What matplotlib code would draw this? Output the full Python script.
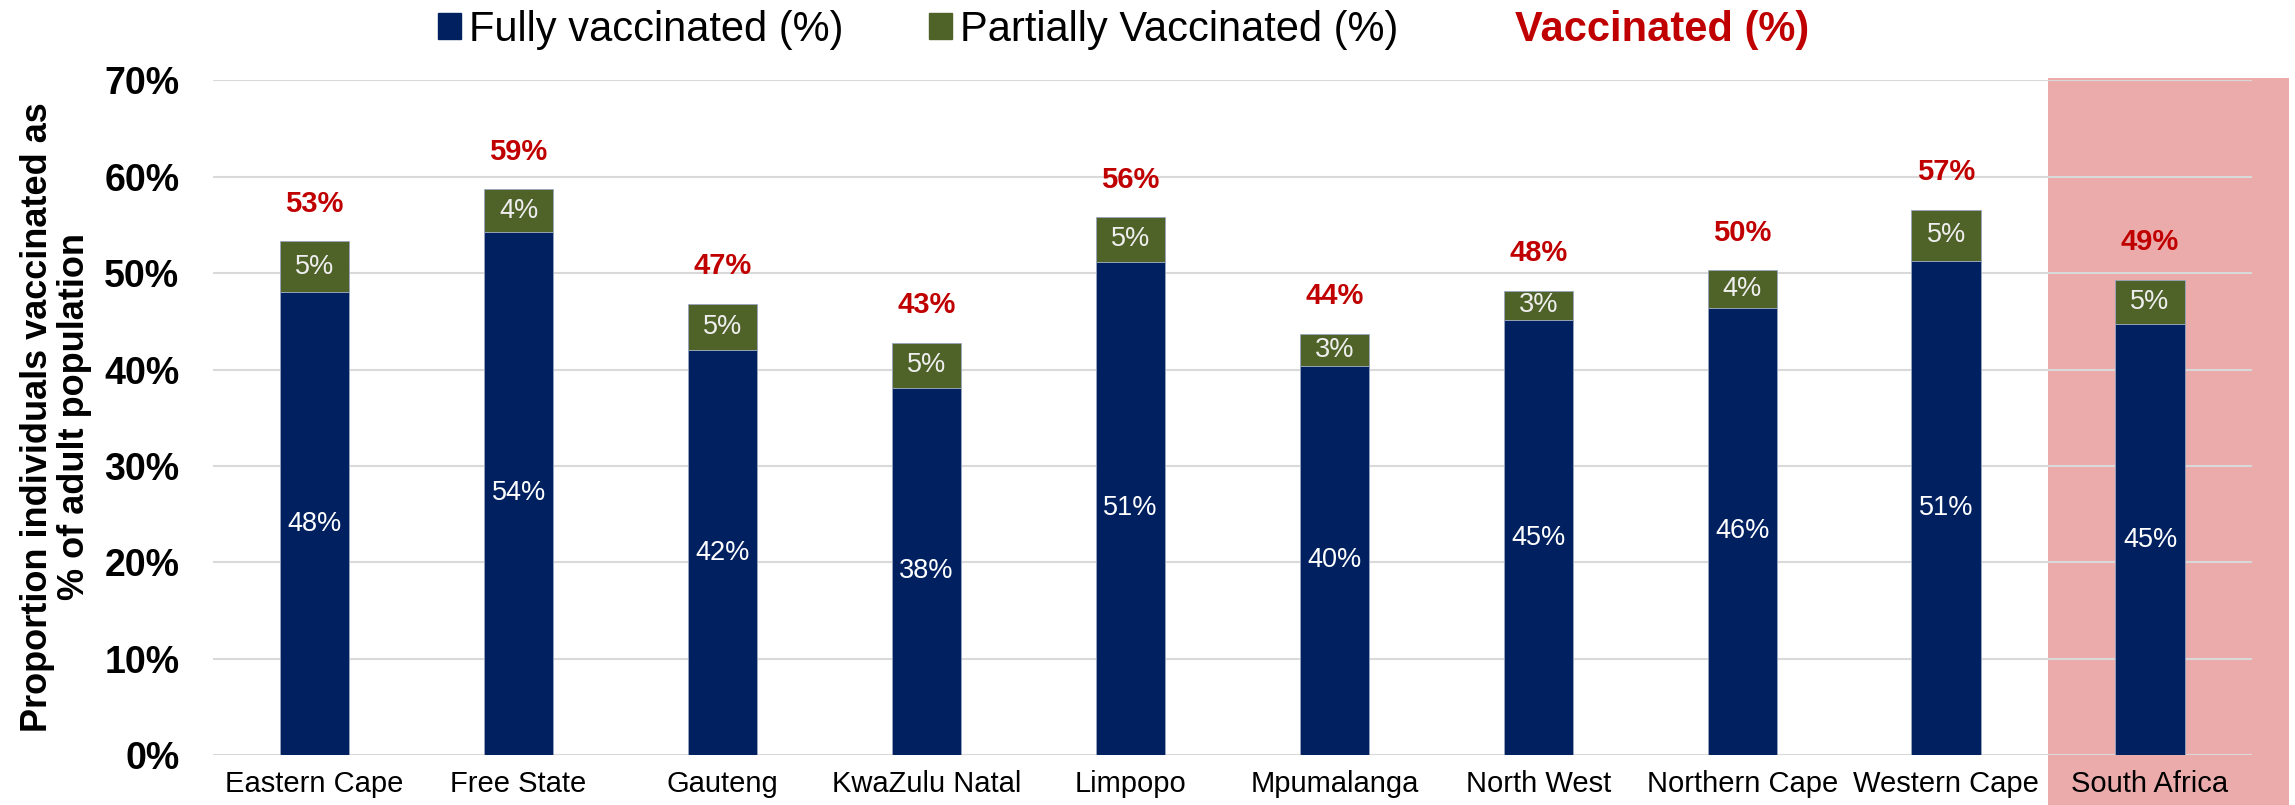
# Vaccination coverage by province, stacked bars
import matplotlib
matplotlib.use('Agg')
import matplotlib.pyplot as plt
from matplotlib.patches import Patch, Rectangle
from matplotlib.ticker import PercentFormatter

plt.rcParams['font.family'] = ['Liberation Sans', 'DejaVu Sans']

provinces = ['Eastern Cape', 'Free State', 'Gauteng', 'KwaZulu Natal', 'Limpopo',
             'Mpumalanga', 'North West', 'Northern Cape', 'Western Cape', 'South Africa']
fully = [48.0, 54.3, 42.0, 38.1, 51.2, 40.4, 45.1, 46.4, 51.3, 44.7]
partial = [5.3, 4.4, 4.8, 4.7, 4.6, 3.3, 3.1, 3.9, 5.3, 4.6]

navy = '#002060'
olive = '#4F6228'
red = '#C00000'
pink = '#EBABAB'

fig = plt.figure(figsize=(22.95, 8.05), dpi=100)
ax = fig.add_axes([212.7 / 2295, 50 / 805, (2252 - 212.7) / 2295, (755 - 80.5) / 805])

x = list(range(len(provinces)))
totals = [f + p for f, p in zip(fully, partial)]

# highlight the national figure
ax.add_patch(Rectangle((8.5, -0.075), 1.18, 1.079, transform=ax.get_xaxis_transform(),
                       facecolor=pink, edgecolor='none', clip_on=False, zorder=0))

ax.bar(x, fully, width=0.34, color=navy, edgecolor='#9AA6C0', linewidth=0.6, zorder=2)
ax.bar(x, partial, width=0.34, bottom=fully, color=olive, edgecolor='#9AA6C0',
       linewidth=0.6, zorder=2)

for i in x:
    ax.text(i, fully[i] / 2, '%d%%' % round(fully[i]), ha='center', va='center',
            color='white', fontsize=19.5, zorder=3)
    ax.text(i, fully[i] + partial[i] / 2, '%d%%' % round(partial[i]), ha='center',
            va='center', color='#EEEEEE', fontsize=19.5, zorder=3)
    ax.annotate('%d%%' % round(totals[i]), (i, totals[i]), xytext=(0, 17),
                textcoords='offset points', ha='center', va='bottom', color=red,
                fontsize=21, fontweight='bold', zorder=3)

ax.set_xlim(-0.5, 9.5)
ax.set_ylim(0, 70)
ax.set_yticks(range(0, 71, 10))
ax.yaxis.set_major_formatter(PercentFormatter(decimals=0))
ax.set_xticks(x)
ax.set_xticklabels(provinces, fontsize=21)
for lab in ax.get_yticklabels():
    lab.set_fontsize(27)
    lab.set_fontweight('bold')
ax.tick_params(axis='y', length=0, pad=24)
ax.tick_params(axis='x', length=0, pad=11)
ax.patch.set_alpha(0)
for s in ax.spines.values():
    s.set_visible(False)
ax.set_axisbelow(True)
ax.grid(axis='y', color='#D9D9D9', linewidth=1.5)

fig.text(0.0244, 0.482, 'Proportion individuals vaccinated as\n% of adult population',
         rotation=90, ha='center', va='center', fontsize=26, fontweight='bold',
         linespacing=1.1)

handles = [Patch(color=navy), Patch(color=olive), Patch(color='none')]
leg = fig.legend(handles, ['Fully vaccinated (%)', 'Partially Vaccinated (%)', 'Vaccinated (%)'],
                 loc='center', bbox_to_anchor=(0.4896, 0.963), ncol=3, frameon=False,
                 fontsize=30, handlelength=0.55, handleheight=0.55, handletextpad=0.2,
                 columnspacing=2.05, borderpad=0)
leg.get_texts()[2].set_color(red)
leg.get_texts()[2].set_fontweight('bold')

fig.savefig('out.png', dpi=100)
